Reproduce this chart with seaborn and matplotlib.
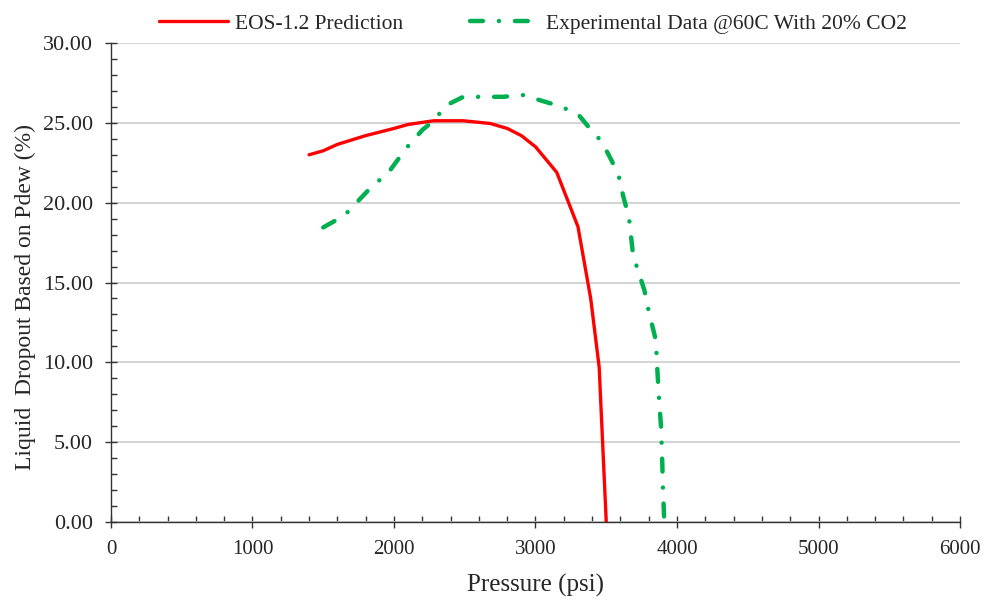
import matplotlib
matplotlib.use("Agg")
import matplotlib.pyplot as plt
from matplotlib.ticker import MultipleLocator, FormatStrFormatter
import seaborn as sns
import pandas as pd

# EOS-1.2 prediction
eos_p = [1400, 1500, 1600, 1800, 2000, 2100, 2280, 2490, 2680, 2800, 2900, 3000, 3150, 3300, 3390, 3450, 3500]
eos_ld = [23.0, 23.25, 23.65, 24.2, 24.65, 24.9, 25.13, 25.13, 24.96, 24.65, 24.2, 23.5, 21.9, 18.5, 14.0, 9.7, 0.0]

# Experimental data @60C with 20% CO2
exp_p = [1500, 1650, 1810, 1970, 2090, 2200, 2280, 2370, 2490, 2620, 2770, 2910, 3030, 3170, 3300, 3370, 3470,
         3540, 3590, 3620, 3660, 3690, 3770, 3800, 3850, 3860, 3875, 3887, 3896, 3900, 3910]
exp_ld = [18.45, 19.2, 20.7, 22.0, 23.45, 24.55, 25.13, 26.1, 26.63, 26.63, 26.63, 26.74, 26.42, 26.05, 25.55, 24.8, 23.8,
          22.6, 21.6, 20.4, 19.1, 16.7, 14.5, 13.2, 11.4, 9.7, 7.4, 6.0, 3.7, 2.3, 0.0]

eos_label = "EOS-1.2 Prediction"
exp_label = "Experimental Data @60C With 20% CO2"

sns.set_style("white")
plt.rcParams['font.family'] = ['Liberation Serif', 'DejaVu Serif']

df_eos = pd.DataFrame({"p": eos_p, "ld": eos_ld})
df_exp = pd.DataFrame({"p": exp_p, "ld": exp_ld})

fig = plt.figure(figsize=(9.89, 6.05), dpi=100)
ax = fig.add_axes([0.1122, 0.1372, 0.8585, 0.7917])

sns.lineplot(data=df_eos, x="p", y="ld", sort=False, estimator=None, ax=ax,
             color="#FF0000", linewidth=2.4, label=eos_label)
sns.lineplot(data=df_exp, x="p", y="ld", sort=False, estimator=None, ax=ax,
             color="#00B050", linewidth=3.2, label=exp_label,
             dashes=False)
line = ax.lines[-1]
line.set_dashes((2.9, 3.6, 0.01, 3.6))
line.set_dash_capstyle('round')

ax.set_xlim(0, 6000)
ax.set_ylim(0, 30)
ax.xaxis.set_major_locator(MultipleLocator(1000))
ax.xaxis.set_minor_locator(MultipleLocator(200))
ax.yaxis.set_major_locator(MultipleLocator(5))
ax.yaxis.set_minor_locator(MultipleLocator(1))
ax.yaxis.set_major_formatter(FormatStrFormatter('%.2f'))

ax.grid(axis='y', which='major', color='#D0D0D0', linewidth=1.3)
ax.grid(axis='x', visible=False)
ax.set_axisbelow(True)

for s in ['top', 'right']:
    ax.spines[s].set_visible(False)
for s in ['left', 'bottom']:
    ax.spines[s].set_color('#333333')
    ax.spines[s].set_linewidth(1.0)

ax.tick_params(axis='x', which='both', bottom=True, top=False)
ax.tick_params(axis='y', which='both', left=True, right=False)
ax.tick_params(axis='both', which='major', direction='inout', length=8, width=1, color='#333333', pad=9)
ax.tick_params(axis='y', which='major', labelsize=16)
ax.tick_params(axis='x', which='major', labelsize=15)
ax.tick_params(axis='both', which='minor', direction='in', length=4, width=1, color='#333333')

ax.set_xlabel("Pressure (psi)", fontsize=18, labelpad=11)
ax.set_ylabel("Liquid  Dropout Based on Pdew (%)", fontsize=17, labelpad=5)
ax.yaxis.label.set_y(0.47)

h, l = ax.get_legend_handles_labels()
leg = ax.legend(h, l, loc='upper center', bbox_to_anchor=(0.497, 1.102), ncol=2, frameon=False,
                fontsize=15.5, handlelength=3.2, columnspacing=3.1, handletextpad=0.35)

fig.savefig("out.png", dpi=100)
